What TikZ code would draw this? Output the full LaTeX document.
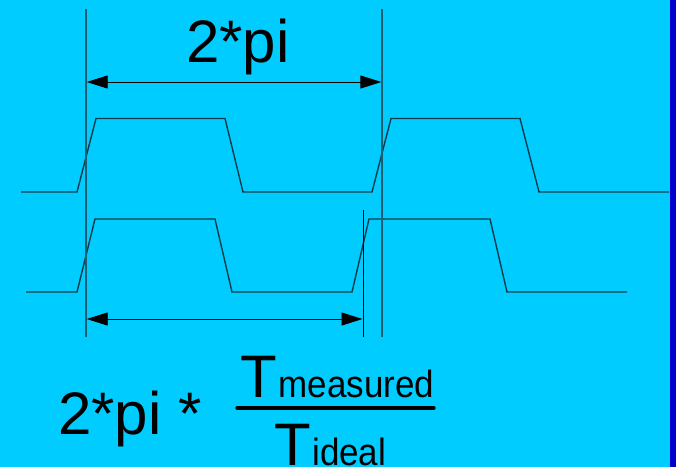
\documentclass[tikz,border=0pt]{standalone}
\usepackage{fontspec}
\setmainfont{Liberation Sans}
\usetikzlibrary{arrows.meta}
\definecolor{bgcyan}{RGB}{0,204,255}
\definecolor{stripblue}{RGB}{0,0,204}
\definecolor{wavecol}{RGB}{10,60,75}
\definecolor{markcol}{RGB}{25,95,115}
\tikzset{
  wave/.style={draw=wavecol, line width=1.4pt, line join=miter},
  marker/.style={draw=markcol, line width=1.4pt},
  thinmark/.style={draw=black, line width=0.9pt},
  dimarrow/.style={draw=black, line width=0.9pt, {Triangle[length=21pt,width=13pt]}-{Triangle[length=21pt,width=13pt]}},
  bigtxt/.style={inner sep=0pt, font=\fontsize{60}{72}\selectfont},
}
\begin{document}
\begin{tikzpicture}[x=1pt, y=-1pt]
\useasboundingbox (0,0) rectangle (676,467);
\fill[bgcyan] (0,0) rectangle (676,467);
\fill[stripblue] (670,0) rectangle (676,467);

% waveforms
\draw[wave] (21,192) -- (77,192) -- (96,118.5) -- (225,118.5) -- (243,192) -- (372,192) -- (391,118.5) -- (520,118.5) -- (539,192) -- (669,192);
\draw[wave] (26,292) -- (77,292) -- (95,219) -- (215,219) -- (232,292) -- (352,292) -- (369,219) -- (490,219) -- (507,292) -- (627,292);

% marker lines
\coordinate (v1t) at (86,9);   \coordinate (v1b) at (86,337);
\coordinate (v2t) at (382,9);  \coordinate (v2b) at (382,337);
\coordinate (v3t) at (363,210); \coordinate (v3b) at (363,337);
\draw[marker] (v1t) -- (v1b);
\draw[marker] (v2t) -- (v2b);
\draw[thinmark] (v3t) -- (v3b);

% dimension arrows
\coordinate (a1l) at (86.7,82);  \coordinate (a1r) at (381.3,82);
\coordinate (a2l) at (86.7,319); \coordinate (a2r) at (362.5,319);
\draw[dimarrow] (a1l) -- (a1r);
\draw[dimarrow] (a2l) -- (a2r);

% labels
\node[bigtxt, anchor=base] (toplbl) at (238,62) {2*pi};
\node[bigtxt, anchor=base west] (formula) at (58,434) {2*pi *};
\node[bigtxt, anchor=base west] (tmeas) at (240.5,397) {T\hspace{1.5pt}\scalebox{0.92}[1]{\fontsize{38}{44}\selectfont measured}};
\node[bigtxt, anchor=base west] (tideal) at (274,465) {T\hspace{1.5pt}\scalebox{0.92}[1]{\fontsize{38}{44}\selectfont ideal}};
\coordinate (fl) at (237,408); \coordinate (fr) at (434,408);
\draw[line width=3.3pt, line cap=round] (fl) -- (fr);
\end{tikzpicture}
\end{document}
